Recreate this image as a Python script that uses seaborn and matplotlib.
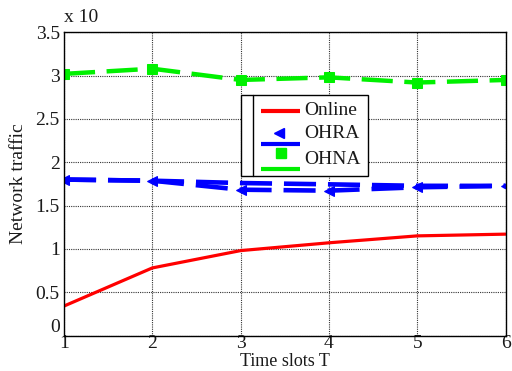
import matplotlib
matplotlib.use("Agg")
import matplotlib.pyplot as plt
import matplotlib.transforms as mtransforms
from matplotlib.lines import Line2D
from matplotlib.patches import Rectangle
import numpy as np
import pandas as pd
import seaborn as sns

# Data
time_slots = [1, 2, 3, 4, 5, 6]
online = [0.34, 0.78, 0.98, 1.07, 1.15, 1.17]
ohra = [1.80, 1.787, 1.683, 1.672, 1.711, 1.727]
ohra_alt = [1.80, 1.787, 1.760, 1.745, 1.728, 1.727]
ohna = [3.02, 3.08, 2.95, 2.98, 2.92, 2.95]
y_ticks = [0, 0.5, 1, 1.5, 2, 2.5, 3, 3.5]
x_ticks = [1, 2, 3, 4, 5, 6]

sns.set_style("white")
plt.rcParams["font.family"] = ["Liberation Serif", "DejaVu Serif"]

W, H = 512, 371
fig = plt.figure(figsize=(W / 100, H / 100), dpi=100)
ax_left, ax_right, ax_top, ax_bottom = 64, 505.5, 32.3, 335.5
ax = fig.add_axes([ax_left / W, (H - ax_bottom) / H,
                   (ax_right - ax_left) / W, (ax_bottom - ax_top) / H])

df = pd.DataFrame({"T": time_slots, "Online": online, "OHRA": ohra,
                   "OHRA2": ohra_alt, "OHNA": ohna})

blue = "#0000ff"
green = "#00f000"
red = "#ff0000"

sns.lineplot(data=df, x="T", y="Online", ax=ax, color=red, linewidth=2.3)
sns.lineplot(data=df, x="T", y="OHRA2", ax=ax, color=blue, linewidth=3.3)
ax.lines[-1].set_dashes((7, 2.6))
sns.lineplot(data=df, x="T", y="OHRA", ax=ax, color=blue, linewidth=3.3,
             marker="<", markersize=7, markeredgecolor=blue)
ax.lines[-1].set_dashes((7, 2.6))
sns.lineplot(data=df, x="T", y="OHNA", ax=ax, color=green, linewidth=3.2,
             marker="s", markersize=7, markeredgecolor=green)
ax.lines[-1].set_dashes((7, 2.6))

ax.set_xlim(1, 6)
ax.set_ylim(0, 3.5)
ax.set_xticks(x_ticks)
ax.set_xticklabels([str(t) for t in x_ticks])
ax.set_yticks(y_ticks)
ax.set_yticklabels(["0", "0.5", "1", "1.5", "2", "2.5", "3", "3.5"])
ax.tick_params(axis="both", labelsize=14, length=0, colors="#1a1a1a")
ax.tick_params(axis="y", pad=3)
ax.tick_params(axis="x", pad=0)
ax.grid(True, color="#333333", linestyle=(0, (1, 1)), linewidth=0.8)
for sp in ax.spines.values():
    sp.set_color("black")
    sp.set_linewidth(1.0)

# lift the bottom tick label above the axis line
ylabs = ax.get_yticklabels()
ylabs[0].set_transform(ylabs[0].get_transform() +
                       mtransforms.ScaledTranslation(0, 10 / 100, fig.dpi_scale_trans))

ax.set_xlabel("")
ax.set_ylabel("Network traffic", fontsize=14, labelpad=6, color="#1a1a1a")
fig.text((ax_left + ax_right) / 2 / W, 0.5 / H, "Time slots T", fontsize=13,
         ha="center", va="bottom", color="#1a1a1a")
ax.text(0.0, 1.02, "x 10", transform=ax.transAxes, fontsize=14,
        ha="left", va="bottom", color="#1a1a1a")

# Legend box, placed in pixel coordinates of the axes
def px(x, y):
    return ((x - ax_left) / (ax_right - ax_left),
            (ax_bottom - y) / (ax_bottom - ax_top))

x0, y0 = px(240.7, 176)
x1, y1 = px(368.3, 95.3)
ax.add_patch(Rectangle((x0, y0), x1 - x0, y1 - y0, transform=ax.transAxes,
                       facecolor="white", edgecolor="black", linewidth=1.0,
                       zorder=5))
xa, ya = px(252.5, 176)
xb, yb = px(252.5, 95.3)
ax.add_line(Line2D([xa, xa], [ya, yb], transform=ax.transAxes, color="black",
                   linewidth=1.0, zorder=6))

def leg_line(y, color):
    a, b = px(260.7, y)
    c, _ = px(300, y)
    ax.add_line(Line2D([a, c], [b, b], transform=ax.transAxes, color=color,
                       linewidth=3.0, zorder=6, solid_capstyle="butt"))

def leg_marker(x, y, m, color):
    a, b = px(x, y)
    ax.add_line(Line2D([a], [b], transform=ax.transAxes, marker=m,
                       markersize=7, color=color, markeredgecolor=color,
                       linestyle="none", zorder=6))

def leg_text(y, s):
    a, b = px(304, y)
    ax.text(a, b, s, transform=ax.transAxes, fontsize=14, ha="left",
            va="center", color="#1a1a1a", zorder=6)

leg_line(110.7, red)
leg_text(110.7, "Online")
leg_marker(279, 132.7, "<", blue)
leg_text(133, "OHRA")
leg_line(144.3, blue)
leg_marker(280.5, 152.7, "s", green)
leg_text(159.3, "OHNA")
leg_line(169.3, green)

fig.savefig("out.png", dpi=100)
